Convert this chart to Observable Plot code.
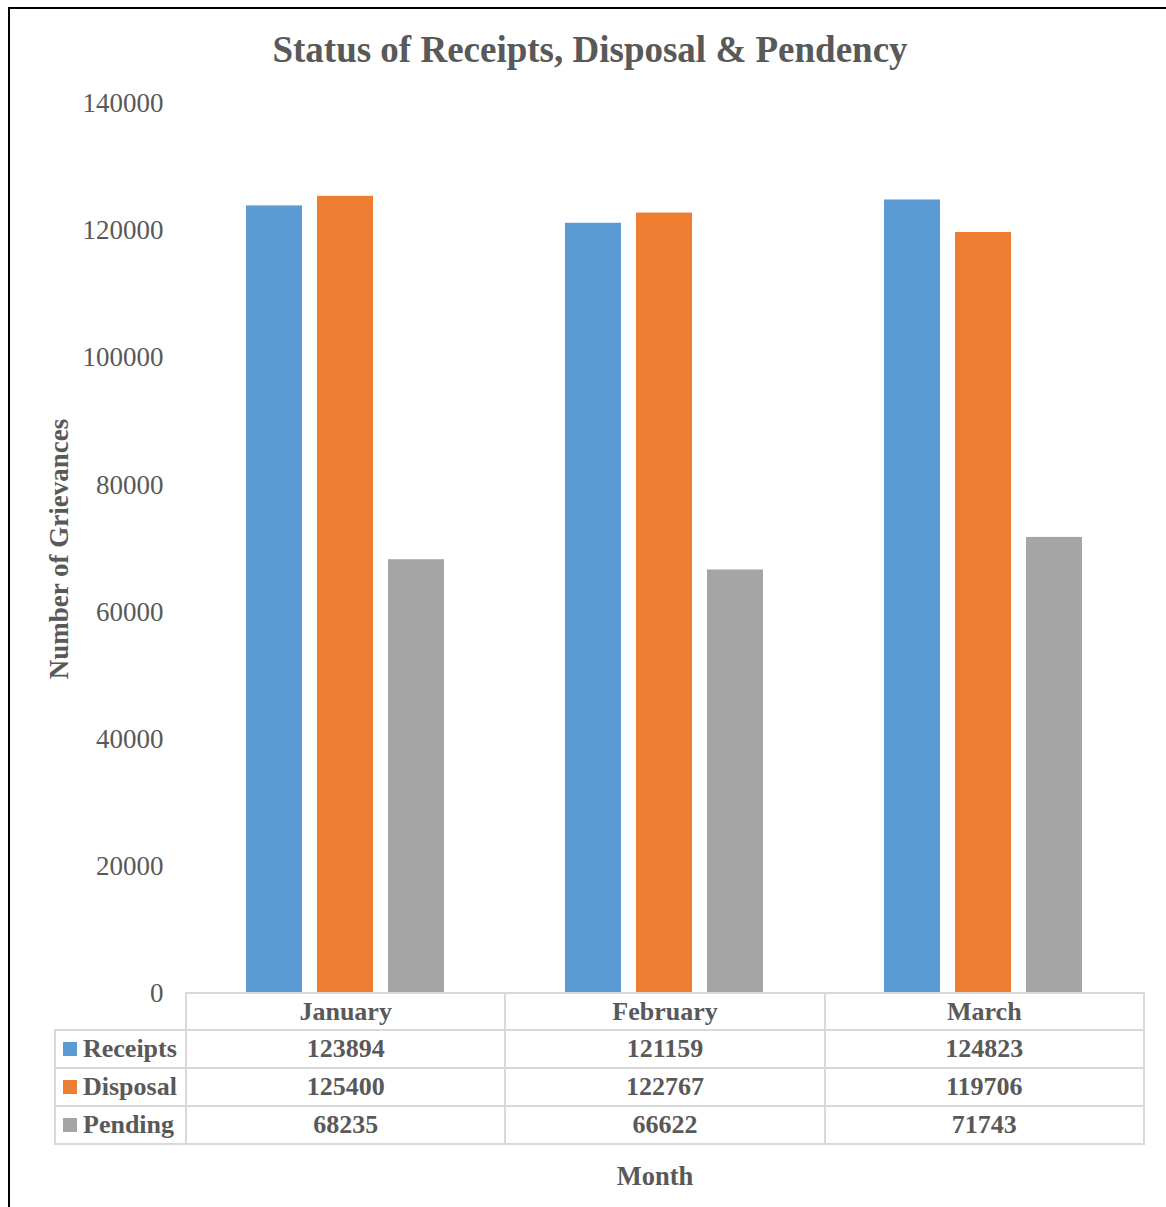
<!DOCTYPE html>
<html>
<head>
<meta charset="utf-8">
<script src="https://cdn.jsdelivr.net/npm/d3@7"></script>
<script src="https://cdn.jsdelivr.net/npm/@observablehq/plot@0.6"></script>
<style>
  html, body { margin: 0; padding: 0; background: #fff; }
  #wrap { position: relative; width: 1166px; height: 1207px; overflow: hidden; font-family: "Liberation Serif", "Times New Roman", serif; color: #595959; }
  #frame { position: absolute; left: 8px; top: 7px; width: 1200px; height: 1300px; border-left: 2px solid #000; border-top: 2px solid #000; box-sizing: border-box; }
  #title { position: absolute; left: 0; width: 1180px; top: 27px; text-align: center; font-weight: bold; font-size: 37px; line-height: 46px; }
  #ylabel { position: absolute; left: 59px; top: 549px; transform: translate(-50%, -50%) rotate(-90deg); white-space: nowrap; font-weight: bold; font-size: 27px; }
  #xlabel { position: absolute; left: 655px; top: 1176px; transform: translate(-50%, -50%); font-weight: bold; font-size: 26.5px; }
  #chart { position: absolute; left: 0; top: 0; }
  #tbl { position: absolute; left: 54px; top: 992px; border-collapse: collapse; table-layout: fixed; font-weight: bold; font-size: 26px; }
  #tbl td { border: 2px solid #d9d9d9; text-align: center; padding: 0; height: 36px; line-height: 36px; }
  #tbl tr.head td { height: 35px; line-height: 35px; }
  #tbl td.corner { border-top: none; border-left: none; }
  #tbl td.leg { text-align: left; padding-left: 7px; white-space: nowrap; }
  .sw { display: inline-block; width: 14px; height: 14px; margin-right: 6px; vertical-align: 1px; }
</style>
</head>
<body>
<div id="wrap">
  <div id="frame"></div>
  <div id="title">Status of Receipts, Disposal &amp; Pendency</div>
  <div id="ylabel">Number of Grievances</div>
  <div id="chart"></div>
  <table id="tbl"></table>
  <div id="xlabel">Month</div>
</div>
<script>
const months = ["January", "February", "March"];
const series = ["Receipts", "Disposal", "Pending"];
const receipts = [123894, 121159, 124823];
const disposal = [125400, 122767, 119706];
const pending = [68235, 66622, 71743];
const yTicks = [0, 20000, 40000, 60000, 80000, 100000, 120000, 140000];
const colors = ["#5B9BD5", "#ED7D31", "#A5A5A5"];

const valuesBySeries = [receipts, disposal, pending];
const data = [];
months.forEach((m, i) => {
  series.forEach((s, j) => data.push({ month: m, series: s, value: valuesBySeries[j][i] }));
});

const W = 1166, ML = 185, MR = 23;
const chart = Plot.plot({
  width: W,
  height: 1000,
  marginTop: 103,
  marginBottom: 7,
  marginLeft: ML,
  marginRight: MR,
  style: { fontFamily: "'Liberation Serif', 'Times New Roman', serif", fontSize: "27px", color: "#595959", background: "transparent", overflow: "visible" },
  fx: { domain: months, padding: 0, axis: null },
  x: { domain: series, paddingInner: 0.211, paddingOuter: 0.83, axis: null },
  y: { domain: [0, 140000] },
  color: { domain: series, range: colors },
  marks: [
    Plot.axisY({ ticks: yTicks, tickSize: 0, tickPadding: 23, label: null, tickFormat: d => String(d), fontSize: 27 }),
    Plot.barY(data, { fx: "month", x: "series", y: "value", fill: "series" })
  ]
});
document.getElementById("chart").appendChild(chart);

// data table below the plot
const colW = (W - ML - MR) / months.length;
const tbl = document.getElementById("tbl");
const cg = document.createElement("colgroup");
[ML - 54, colW, colW, colW].forEach(w => { const c = document.createElement("col"); c.style.width = w + "px"; cg.appendChild(c); });
tbl.appendChild(cg);
const hr = document.createElement("tr"); hr.className = "head";
const corner = document.createElement("td"); corner.className = "corner"; hr.appendChild(corner);
months.forEach(m => { const td = document.createElement("td"); td.textContent = m; hr.appendChild(td); });
tbl.appendChild(hr);
series.forEach((s, j) => {
  const tr = document.createElement("tr");
  const lg = document.createElement("td"); lg.className = "leg";
  const sw = document.createElement("span"); sw.className = "sw"; sw.style.background = colors[j];
  lg.appendChild(sw); lg.appendChild(document.createTextNode(s));
  tr.appendChild(lg);
  valuesBySeries[j].forEach(v => { const td = document.createElement("td"); td.textContent = v; tr.appendChild(td); });
  tbl.appendChild(tr);
});
</script>
</body>
</html>
